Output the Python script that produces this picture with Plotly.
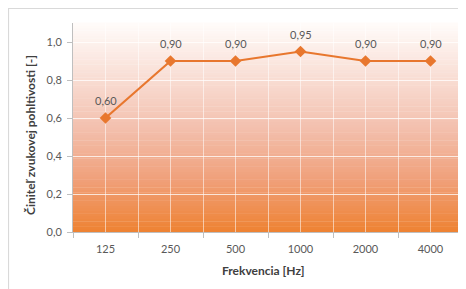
import plotly.graph_objects as go

categories = ["125", "250", "500", "1000", "2000", "4000"]
values = [0.60, 0.90, 0.90, 0.95, 0.90, 0.90]
y_ticks = [0.0, 0.2, 0.4, 0.6, 0.8, 1.0]

x_title = "Frekvencia [Hz]"
y_title = "Činiteľ zvukovej pohltivosti [-]"

line_color = "#E8772E"
font_family = "Lato, 'Open Sans', sans-serif"

fig = go.Figure()
fig.add_trace(go.Scatter(
    x=categories, y=values, mode="lines+markers",
    line=dict(color=line_color, width=2.2),
    marker=dict(symbol="diamond", size=9, color=line_color),
    cliponaxis=False,
    showlegend=False,
))

# gradient background bands (style only)
stops = [(0.0, (238, 130, 50)), (0.25, (240, 160, 122)), (0.5, (243, 192, 174)),
         (0.75, (249, 223, 214)), (1.0, (255, 252, 250))]

def col(f):
    for (f0, c0), (f1, c1) in zip(stops[:-1], stops[1:]):
        if f0 <= f <= f1:
            t = (f - f0) / (f1 - f0)
            return "rgb(%d,%d,%d)" % tuple(round(a + (b - a) * t) for a, b in zip(c0, c1))
    return "rgb(255,255,255)"

# page offset of 8px (body margin) compensated in the geometry below
L, T, W, H = 65, 15, 390, 209
FW, FH = 458, 281

shapes = []
n = 80
for i in range(n):
    f0 = i / n
    f1 = (i + 1) / n
    shapes.append(dict(type="rect", xref="paper", yref="paper", x0=0, x1=1, y0=f0, y1=f1 + 0.002,
                       fillcolor=col((f0 + f1) / 2), line=dict(width=0), layer="below"))
# center vertical gridlines
for i, c in enumerate(categories):
    shapes.append(dict(type="line", xref="x", yref="paper", x0=i, x1=i, y0=0, y1=1,
                       line=dict(color="rgba(255,255,255,0.55)", width=1), layer="below"))
# outer frame
shapes.append(dict(type="rect", xref="paper", yref="paper",
                   x0=(0.5 - L) / W, x1=(FW + 20 - L) / W, y0=(T + H - FH - 20) / H, y1=(T + H - 0.5) / H,
                   line=dict(color="#D9D9D9", width=1.2), fillcolor="rgba(0,0,0,0)", layer="below"))

annotations = [
    dict(text=f"<b>{y_title}</b>", xref="paper", yref="paper",
         x=(22 - L) / W, y=(T + H - 127) / H, textangle=-90, showarrow=False,
         font=dict(size=12, color="#404040", family=font_family), xanchor="center", yanchor="middle"),
    dict(text=f"<b>{x_title}</b>", xref="paper", yref="paper",
         x=(255 - L) / W, y=(T + H - 262) / H, showarrow=False,
         font=dict(size=12, color="#404040", family=font_family), xanchor="center", yanchor="middle"),
]
for i, v in enumerate(values):
    annotations.append(dict(
        x=i, y=v, xref="x", yref="y", text=f"{v:.2f}".replace(".", ","),
        showarrow=False, yanchor="bottom", xanchor="center", yshift=9,
        font=dict(size=11, color="#595959", family=font_family),
    ))

fig.update_layout(
    width=FW, height=FH,
    margin=dict(l=L, r=FW - L - W, t=T, b=FH - T - H, autoexpand=False),
    paper_bgcolor="white", plot_bgcolor="white",
    separators=", ",
    font=dict(family=font_family, size=11, color="#595959"),
    shapes=shapes, annotations=annotations,
)
fig.update_xaxes(
    type="category", range=[-0.5, 5.5], tickson="boundaries", automargin=False,
    showgrid=True, gridcolor="rgba(255,255,255,0.55)", gridwidth=1,
    ticks="outside", ticklen=5, tickcolor="#BFBFBF", ticklabelstandoff=7,
    showline=True, linecolor="#BFBFBF", linewidth=1,
    tickfont=dict(size=11, color="#595959"),
)
fig.update_yaxes(
    range=[0, 1.1], tickvals=y_ticks, tickformat=".1f", automargin=False,
    showgrid=True, gridcolor="rgba(255,255,255,0.75)", gridwidth=1,
    ticks="outside", ticklen=5, tickcolor="#BFBFBF", ticklabelstandoff=3,
    showline=True, linecolor="#BFBFBF", linewidth=1, zeroline=False,
    tickfont=dict(size=11, color="#595959"),
)

fig.write_html("out.html")
